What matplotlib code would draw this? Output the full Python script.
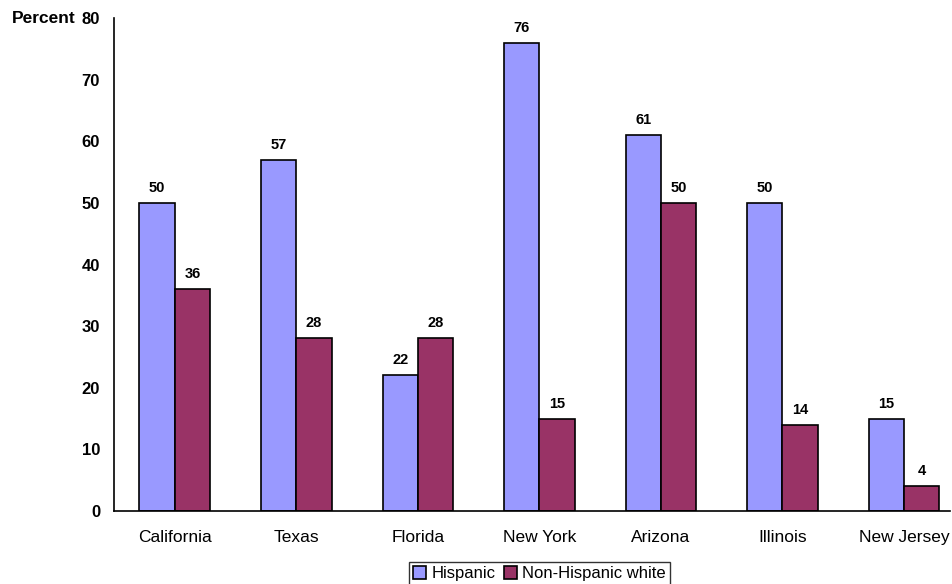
import numpy as np
import matplotlib.pyplot as plt

plt.rcParams['font.family'] = ['Liberation Sans', 'DejaVu Sans']

states = ['California', 'Texas', 'Florida', 'New York', 'Arizona', 'Illinois', 'New Jersey']
hispanic = [50, 57, 22, 76, 61, 50, 15]
nonhisp_white = [36, 28, 28, 15, 50, 14, 4]

fig = plt.figure(figsize=(9.53, 5.84), dpi=100)
ax = fig.add_axes([0.1196, 0.125, 0.8773, 0.844])

x = np.arange(len(states))
w = 0.29
b1 = ax.bar(x - w/2, hispanic, w, color='#9999FF', edgecolor='black', linewidth=1.2, label='Hispanic')
b2 = ax.bar(x + w/2, nonhisp_white, w, color='#993366', edgecolor='black', linewidth=1.2, label='Non-Hispanic white')

for bars, vals in [(b1, hispanic), (b2, nonhisp_white)]:
    for r, v in zip(bars, vals):
        ax.text(r.get_x() + r.get_width()/2, v + 1.3, str(v), ha='center', va='bottom',
                fontsize=10.5, fontweight='bold')

ax.set_xlim(-0.5, 6.38)
ax.set_ylim(0, 80)
ax.set_yticks(range(0, 81, 10))
ax.set_xticks(x)
ax.set_xticklabels(states, fontsize=12.5)
ax.tick_params(axis='both', length=0)
ax.tick_params(axis='y', pad=10, labelsize=12)
ax.tick_params(axis='x', pad=14)
for lab in ax.get_yticklabels():
    lab.set_fontweight('bold')
for s in ['top', 'right']:
    ax.spines[s].set_visible(False)
ax.spines['left'].set_linewidth(1.2)
ax.spines['bottom'].set_linewidth(1.2)

fig.text(0.012, 0.969, 'Percent', fontsize=12.5, fontweight='bold', va='center', ha='left')

leg = fig.legend(loc='lower center', bbox_to_anchor=(0.566, -0.005), ncol=2, fontsize=12,
                 frameon=True, fancybox=False, edgecolor='black', handlelength=0.8,
                 handleheight=0.8, handletextpad=0.3, columnspacing=0.5, borderpad=0.25,
                 borderaxespad=0.1)
leg.get_frame().set_linewidth(1.0)

fig.savefig('out.png', dpi=100)
